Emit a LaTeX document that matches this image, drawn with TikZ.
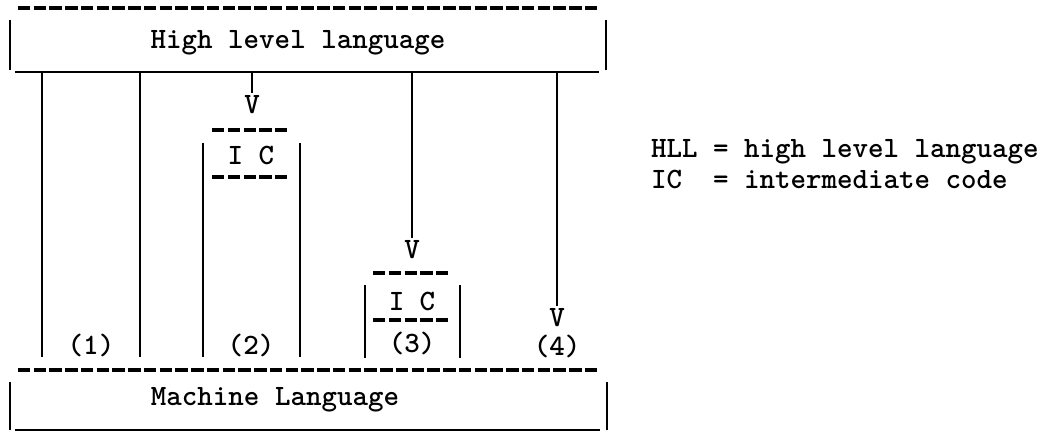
\documentclass[tikz,border=0pt]{standalone}
\usepackage{tikz}
\begin{document}
\begin{tikzpicture}[x=0.025cm, y=-0.025cm, line width=1.6pt,
              every node/.style = {font=\ttfamily\bfseries\fontsize{21}{22}\selectfont,
                inner sep=0pt},
              typed/.style = {line width=2.2pt, dash pattern=on 8.8pt off 2.4pt},
              arrowv/.style = {anchor=center},
              flow/.style = {shorten >=1.5pt}]
  \useasboundingbox (0,0) rectangle (1056,432);

  \node[anchor=base] (hll) at (298,49) {High level language};
  \draw[typed] (18,8) -- (597,8);
  \draw (10,20) -- (10,70);
  \draw (606,20) -- (606,70);
  \draw (15,72) -- (599,72);

  \node[anchor=base] (ml) at (275,405) {Machine Language};
  \draw[typed] (18,370) -- (597,370);
  \draw (10,382) -- (10,430);
  \draw (607,382) -- (607,430);
  \draw[line width=0.9pt] (15,430) -- (600,430);

  \coordinate (top1a) at (42,72);   \coordinate (bot1a) at (42,357);
  \coordinate (top1b) at (140,72);  \coordinate (bot1b) at (140,357);
  \coordinate (top2) at (252,72);
  \coordinate (top3) at (412,72);
  \coordinate (top4) at (557,72);

  \draw (top1a) -- (bot1a);
  \draw (top1b) -- (bot1b);
  \node[anchor=base] (lab1) at (91,354) {(1)};

  \node[arrowv] (v2) at (252,105) {V};
  \draw[flow] (top2) -- (v2.north);
  \draw[typed] (212,130) -- (289,130);
  \node (ic2) at (251,155) {I C};
  \draw[typed] (212,177) -- (289,177);
  \draw (203,143) -- (203,357);
  \draw (300,143) -- (300,357);
  \node[anchor=base] (lab2) at (251,354) {(2)};

  \node[arrowv] (v3) at (412,250) {V};
  \draw[flow] (top3) -- (v3.north);
  \draw[typed] (373,273) -- (450,273);
  \node (ic3) at (412,301) {I C};
  \draw[typed] (373,320) -- (450,320);
  \draw (365,285) -- (365,358);
  \draw (460,285) -- (460,358);
  \node[anchor=base] (lab3) at (412,352) {(3)};

  \node[arrowv] (v4) at (557,318) {V};
  \draw[flow] (top4) -- (v4.north);
  \node[anchor=base] (lab4) at (557,355) {(4)};

  \node[anchor=base west] (key1) at (650,158) {HLL = high level language};
  \node[anchor=base west] (key2) at (650,189) {IC\ \ = intermediate code};
\end{tikzpicture}
\end{document}
